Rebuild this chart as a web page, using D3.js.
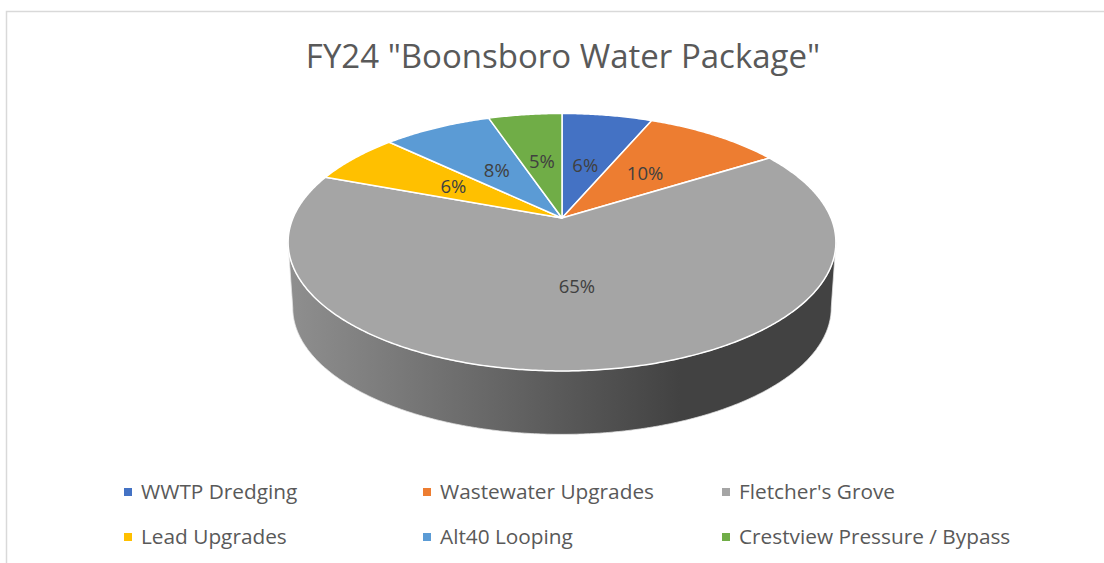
<!doctype html>
<html lang="en">
  <head>
    <meta charset="UTF-8"/>
    <title>FY24 Boonsboro Water Package</title>
    <script src="https://cdn.jsdelivr.net/npm/d3@7/dist/d3.min.js"></script>
    <style>
      html, body { margin: 0; padding: 0; background: #fff; overflow: hidden; }
      svg { display: block; }
      text { font-family: "Open Sans", sans-serif; }
    </style>
  </head>
  <body>
    <svg id="chart" width="1104" height="563"></svg>
    <script>
      const titleText = 'FY24 "Boonsboro Water Package"';
      const categories = ["WWTP Dredging", "Wastewater Upgrades", "Fletcher's Grove", "Lead Upgrades", "Alt40 Looping", "Crestview Pressure / Bypass"];
      const shares = [6.4, 9.7, 64.6, 6.4, 7.7, 5.2];
      const sliceColors = ["#4472c4", "#ed7d31", "#a5a5a5", "#ffc000", "#5b9bd5", "#70ad47"];

      const svg = d3.select("#chart");
      const defs = svg.append("defs");

      // frame, only the top and left edges are in the crop
      svg.append("path")
        .attr("d", "M6.5,563V11.5H1104")
        .attr("fill", "none")
        .attr("stroke", "#d9d9d9")
        .attr("stroke-width", 1.5);

      svg.append("text")
        .attr("x", 563)
        .attr("y", 68)
        .attr("text-anchor", "middle")
        .attr("font-size", 33)
        .attr("fill", "#595959")
        .text(titleText);

      // tilted disc: a circle seen in perspective, so the apex sits above the ellipse centre
      const apexX = 562, apexY = 218;
      const persp = 0.188;
      const radiusX = 269, radiusY = 124.2;
      const wallDrop = 66, wallShrink = 0.983;

      function project(angle, r = 1, drop = 0, shrink = 1) {
        const depth = Math.cos(angle) * r;
        const s = shrink / (1 + persp * depth);
        return [apexX + radiusX * Math.sin(angle) * r * s,
                apexY + drop - radiusY * depth * s];
      }

      const line = d3.line();
      const pie = d3.pie().sort(null).value(d => d)(shares);

      function rimAngles(a0, a1) {
        const n = Math.max(2, Math.ceil((a1 - a0) / 0.01));
        return d3.range(n + 1).map(i => a0 + (a1 - a0) * i / n);
      }

      // side wall: grey slice is the only one facing the viewer
      const sideX = d3.scaleLinear().domain([288, 680]);
      const grad = defs.append("linearGradient")
        .attr("id", "wall")
        .attr("gradientUnits", "userSpaceOnUse")
        .attr("x1", sideX.domain()[0]).attr("x2", sideX.domain()[1])
        .attr("y1", 0).attr("y2", 0);
      grad.append("stop").attr("offset", 0).attr("stop-color", "#8f8f8f");
      grad.append("stop").attr("offset", 1).attr("stop-color", "#424242");

      const edge = Math.acos(-persp);
      const frontAngles = rimAngles(edge, 2 * Math.PI - edge);
      const wallPts = frontAngles.map(a => project(a))
        .concat(frontAngles.slice().reverse().map(a => project(a, 1, wallDrop, wallShrink)));
      svg.append("path")
        .attr("d", line(wallPts) + "Z")
        .attr("fill", "url(#wall)")
        .attr("stroke", "#e4e4e4")
        .attr("stroke-width", 0.75);

      // top of the pie
      svg.append("g").selectAll("path")
        .data(pie)
        .join("path")
        .attr("d", d => line([[apexX, apexY]].concat(rimAngles(d.startAngle, d.endAngle).map(a => project(a)))) + "Z")
        .attr("fill", (d, i) => sliceColors[i])
        .attr("stroke", "#fff")
        .attr("stroke-width", 1.5)
        .attr("stroke-linejoin", "round");

      // percent labels
      const pct = d3.format(".0%");
      const total = d3.sum(shares);
      const labelRadius = [0.47, 0.51, 0.5, 0.5, 0.485, 0.5];
      svg.append("g").selectAll("text")
        .data(pie)
        .join("text")
        .attr("transform", (d, i) => {
          const p = project((d.startAngle + d.endAngle) / 2, labelRadius[i]);
          return `translate(${p[0]},${p[1]})`;
        })
        .attr("text-anchor", "middle")
        .attr("dy", "0.35em")
        .attr("font-size", 18.5)
        .attr("fill", "#404040")
        .text(d => pct(d.value / total));

      // legend, three across and two down
      const legendX = d3.scalePoint().domain([0, 1, 2]).range([124, 722]);
      const legendY = d3.scalePoint().domain([0, 1]).range([492, 537]);
      const legend = svg.append("g").selectAll("g")
        .data(categories)
        .join("g")
        .attr("transform", (d, i) => `translate(${legendX(i % 3)},${legendY(Math.floor(i / 3))})`);
      legend.append("rect")
        .attr("x", 0).attr("y", -4)
        .attr("width", 8).attr("height", 8)
        .attr("fill", (d, i) => sliceColors[i]);
      legend.append("text")
        .attr("x", 17)
        .attr("dy", "0.35em")
        .attr("font-size", 20.8)
        .attr("fill", "#595959")
        .text(d => d);
    </script>
  </body>
</html>
